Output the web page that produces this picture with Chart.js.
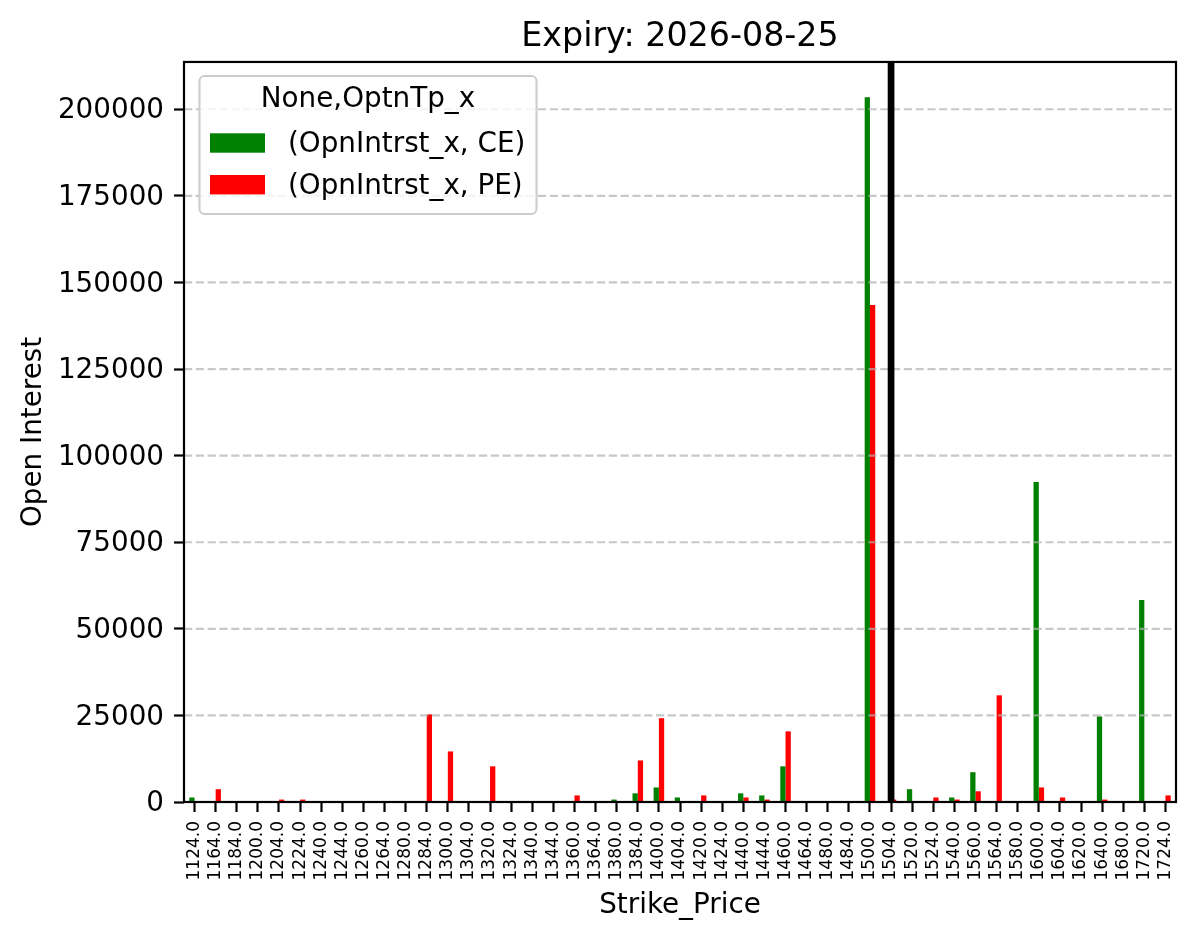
<!DOCTYPE html>
<html><head><meta charset="utf-8">
<script src="https://cdn.jsdelivr.net/npm/chart.js@4.4.1/dist/chart.umd.min.js"></script>
<style>html,body{margin:0;padding:0;background:#fff;} #wrap{width:1196px;height:939px;}</style>
</head><body><div id="wrap"><canvas id="c" width="1196" height="939"></canvas></div>
<script>
const strikeLabels = ['1124.0','1164.0','1184.0','1200.0','1204.0','1224.0','1240.0','1244.0','1260.0','1264.0',
  '1280.0','1284.0','1300.0','1304.0','1320.0','1324.0','1340.0','1344.0','1360.0','1364.0',
  '1380.0','1384.0','1400.0','1404.0','1420.0','1424.0','1440.0','1444.0','1460.0','1464.0',
  '1480.0','1484.0','1500.0','1504.0','1520.0','1524.0','1540.0','1560.0','1564.0','1580.0',
  '1600.0','1604.0','1620.0','1640.0','1680.0','1720.0','1724.0'];
const ceOI = [1300,0,0,0,0,0,0,0,0,0,
  0,0,0,0,0,0,0,0,0,0,
  700,2500,4200,1300,0,0,2500,1900,10300,0,
  0,0,203500,0,3700,0,1300,8600,0,0,
  92400,0,0,24700,0,58300,0];
const peOI = [0,3700,0,0,700,700,0,0,0,0,
  0,25300,14600,0,10300,0,0,0,1900,0,
  0,12000,24200,0,1900,0,1300,700,20400,0,
  0,0,143500,700,0,1300,700,3100,30800,0,
  4200,1300,0,700,0,0,1900];
const yTickValues = [0,25000,50000,75000,100000,125000,150000,175000,200000];
const yMax = 213660;
const atmStrike = '1504.0';
const chartTitle = 'Expiry: 2026-08-25';
const xTitle = 'Strike_Price';
const yTitle = 'Open Interest';
const legendTitle = 'None,OptnTp_x';
const seriesNames = ['(OpnIntrst_x, CE)', '(OpnIntrst_x, PE)'];
const seriesColors = ['#008000', '#ff0000'];

const FONT = "'DejaVu Sans'";

const overlay = {
  id: 'overlay',
  afterDatasetsDraw(chart) {
    const {ctx, chartArea: a, scales: {x, y}} = chart;
    ctx.save();
    ctx.strokeStyle = 'rgba(176,176,176,0.7)';
    ctx.lineWidth = 2.2;
    ctx.setLineDash([8.2, 3.6]);
    yTickValues.forEach(v => {
      const py = y.getPixelForValue(v);
      ctx.beginPath(); ctx.moveTo(a.left, py); ctx.lineTo(a.right, py); ctx.stroke();
    });
    ctx.setLineDash([]);
    const px = x.getPixelForValue(strikeLabels.indexOf(atmStrike));
    ctx.strokeStyle = '#000';
    ctx.lineWidth = 6.7;
    ctx.beginPath(); ctx.moveTo(px, a.top); ctx.lineTo(px, a.bottom); ctx.stroke();
    ctx.lineWidth = 2.2;
    ctx.strokeRect(a.left, a.top, a.right - a.left, a.bottom - a.top);
    ctx.restore();
  },
  afterDraw(chart) {
    const {ctx} = chart;
    ctx.save();
    const bx = 199.5, by = 76, bw = 337, bh = 138, r = 5;
    ctx.beginPath();
    ctx.roundRect(bx, by, bw, bh, r);
    ctx.fillStyle = 'rgba(255,255,255,0.8)';
    ctx.fill();
    ctx.strokeStyle = '#cccccc';
    ctx.lineWidth = 2;
    ctx.stroke();
    ctx.fillStyle = '#000';
    ctx.font = '27.8px ' + FONT;
    ctx.textBaseline = 'middle';
    ctx.textAlign = 'center';
    ctx.fillText(legendTitle, 368, 100);
    const rows = [143, 184.7];
    ctx.textAlign = 'left';
    seriesNames.forEach((n, i) => {
      ctx.fillStyle = seriesColors[i];
      ctx.fillRect(210, rows[i] - 9.7, 55, 19.4);
      ctx.fillStyle = '#000';
      ctx.fillText(n, 288, rows[i] + 2);
    });
    ctx.restore();
  }
};

new Chart(document.getElementById('c'), {
  type: 'bar',
  data: {
    labels: strikeLabels,
    datasets: [
      {label: seriesNames[0], data: ceOI, backgroundColor: seriesColors[0], categoryPercentage: 0.5, barPercentage: 1.0, borderWidth: 0},
      {label: seriesNames[1], data: peOI, backgroundColor: seriesColors[1], categoryPercentage: 0.5, barPercentage: 1.0, borderWidth: 0}
    ]
  },
  options: {
    responsive: false,
    animation: false,
    devicePixelRatio: 1,
    layout: {padding: {left: 0, right: 20, top: 0, bottom: 0}},
    plugins: {
      legend: {display: false},
      tooltip: {enabled: false},
      title: {
        display: true, text: chartTitle, color: '#000', fullSize: false,
        font: {family: FONT, size: 33.3, weight: 'normal', lineHeight: 1.2},
        padding: {top: 17, bottom: 5}
      }
    },
    scales: {
      x: {
        type: 'category',
        offset: true,
        border: {display: false},
        grid: {display: true, drawOnChartArea: false, drawTicks: true, tickLength: 10, tickColor: '#000', tickWidth: 2.2, offset: false},
        ticks: {autoSkip: false, minRotation: 90, maxRotation: 90, padding: 9, color: '#000', font: {family: FONT, size: 17}},
        title: {display: true, text: xTitle, color: '#000', font: {family: FONT, size: 27.8, lineHeight: 1.2}, padding: {top: 0, bottom: 17}},
        afterFit(s) { s.height = 137; }
      },
      y: {
        min: 0, max: yMax,
        border: {display: false},
        afterBuildTicks(s) { s.ticks = yTickValues.map(v => ({value: v})); },
        grid: {display: true, drawOnChartArea: false, drawTicks: true, tickLength: 10, tickColor: '#000', tickWidth: 2.2},
        ticks: {callback: v => String(v), padding: 10, labelOffset: 2, color: '#000', font: {family: FONT, size: 27.8}},
        title: {display: true, text: yTitle, color: '#000', font: {family: FONT, size: 27.8, lineHeight: 1.2}, padding: {top: 17, bottom: 0}},
        afterFit(s) { s.width = 184; }
      }
    }
  },
  plugins: [overlay]
});
</script>
</body></html>
